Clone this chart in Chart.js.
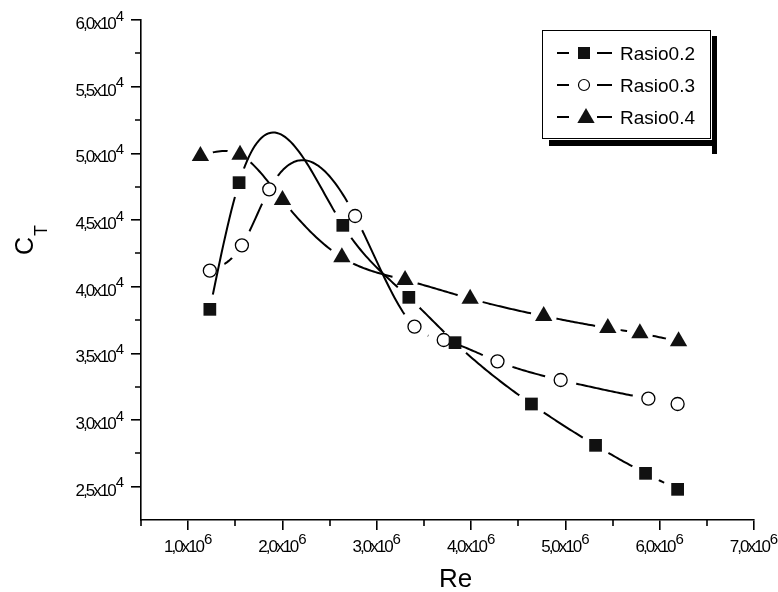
<!DOCTYPE html>
<html><head><meta charset="utf-8">
<script src="https://cdn.jsdelivr.net/npm/chart.js@4/dist/chart.umd.min.js"></script>
<style>html,body{margin:0;padding:0;background:#fff}canvas{display:block}</style>
</head><body>
<canvas id="c" width="778" height="592"></canvas>
<script>
// ---- data ----
const seriesLabels = ['Rasio0.2', 'Rasio0.3', 'Rasio0.4'];
const r02X = [1.23e6, 1.54e6, 2.64e6, 3.34e6, 3.83e6, 4.64e6, 5.32e6, 5.85e6, 6.19e6];
const r02Y = [3.83e4, 4.78e4, 4.46e4, 3.92e4, 3.58e4, 3.12e4, 2.81e4, 2.60e4, 2.48e4];
const r03X = [1.23e6, 1.57e6, 1.86e6, 2.77e6, 3.40e6, 3.71e6, 4.28e6, 4.95e6, 5.88e6, 6.19e6];
const r03Y = [4.12e4, 4.31e4, 4.73e4, 4.53e4, 3.70e4, 3.60e4, 3.44e4, 3.30e4, 3.16e4, 3.12e4];
const r04X = [1.13e6, 1.55e6, 2.00e6, 2.63e6, 3.30e6, 3.99e6, 4.77e6, 5.45e6, 5.79e6, 6.20e6];
const r04Y = [4.98e4, 4.99e4, 4.65e4, 4.22e4, 4.05e4, 3.91e4, 3.78e4, 3.69e4, 3.65e4, 3.59e4];

const xTickValues = [1e6, 2e6, 3e6, 4e6, 5e6, 6e6, 7e6];
const xTickLabels = ['1,0x10', '2,0x10', '3,0x10', '4,0x10', '5,0x10', '6,0x10', '7,0x10'];
const xTickPowers = ['6', '6', '6', '6', '6', '6', '6'];
const xMinorTicks = [0.5e6, 1.5e6, 2.5e6, 3.5e6, 4.5e6, 5.5e6, 6.5e6];
const yTickValues = [2.5e4, 3.0e4, 3.5e4, 4.0e4, 4.5e4, 5.0e4, 5.5e4, 6.0e4];
const yTickLabels = ['2,5x10', '3,0x10', '3,5x10', '4,0x10', '4,5x10', '5,0x10', '5,5x10', '6,0x10'];
const yTickPowers = ['4', '4', '4', '4', '4', '4', '4', '4'];
const yMinorTicks = [2.75e4, 3.25e4, 3.75e4, 4.25e4, 4.75e4, 5.25e4, 5.75e4];
const xTitle = 'Re';
const yTitleMain = 'C';
const yTitleSub = 'T';

const FONT = '"Liberation Sans", Arial, Helvetica, sans-serif';
const toPts = (xs, ys) => xs.map((x, i) => ({x: x, y: ys[i]}));

// natural cubic spline second derivatives
function splineM(xs, ys) {
  const n = xs.length, m = new Array(n).fill(0);
  if (n < 3) return m;
  const a = [], b = [], c = [], d = [];
  for (let i = 1; i < n - 1; i++) {
    const h0 = xs[i] - xs[i - 1], h1 = xs[i + 1] - xs[i];
    a.push(h0); b.push(2 * (h0 + h1)); c.push(h1);
    d.push(6 * ((ys[i + 1] - ys[i]) / h1 - (ys[i] - ys[i - 1]) / h0));
  }
  const k = b.length;
  for (let i = 1; i < k; i++) { const w = a[i] / b[i - 1]; b[i] -= w * c[i - 1]; d[i] -= w * d[i - 1]; }
  const s = new Array(k);
  s[k - 1] = d[k - 1] / b[k - 1];
  for (let i = k - 2; i >= 0; i--) s[i] = (d[i] - c[i] * s[i + 1]) / b[i];
  for (let i = 0; i < k; i++) m[i + 1] = s[i];
  return m;
}

const splinePlugin = {
  id: 'splineLines',
  beforeDatasetsDraw(chart) {
    const ctx = chart.ctx;
    chart.data.datasets.forEach((ds, di) => {
      const gap = ds.lineGap;
      const pts = chart.getDatasetMeta(di).data.map(e => ({x: e.x, y: e.y}));
      const xs = pts.map(p => p.x), ys = pts.map(p => p.y);
      const m = splineM(xs, ys);
      const off = document.createElement('canvas');
      off.width = chart.width; off.height = chart.height;
      const oc = off.getContext('2d');
      oc.beginPath();
      oc.moveTo(xs[0], ys[0]);
      for (let i = 0; i < xs.length - 1; i++) {
        const h = xs[i + 1] - xs[i];
        const steps = Math.max(4, Math.ceil(h / 2));
        for (let s = 1; s <= steps; s++) {
          const x = xs[i] + h * s / steps;
          const A = (xs[i + 1] - x) / h, B = (x - xs[i]) / h;
          const y = A * ys[i] + B * ys[i + 1] + ((A * A * A - A) * m[i] + (B * B * B - B) * m[i + 1]) * h * h / 6;
          oc.lineTo(x, y);
        }
      }
      oc.strokeStyle = '#000';
      oc.lineWidth = 2;
      oc.lineJoin = 'round';
      oc.stroke();
      oc.globalCompositeOperation = 'destination-out';
      oc.fillStyle = '#000';
      pts.forEach(p => { oc.beginPath(); oc.arc(p.x, p.y, gap, 0, Math.PI * 2); oc.fill(); });
      ctx.drawImage(off, 0, 0);
    });
  },
  afterDraw(chart) {
    const ctx = chart.ctx;
    const xs = chart.scales.x, ys = chart.scales.y;
    const ca = chart.chartArea;
    ctx.save();
    // minor ticks
    ctx.strokeStyle = '#000';
    ctx.lineWidth = 1.6;
    ctx.beginPath();
    xMinorTicks.forEach(v => { const px = Math.round(xs.getPixelForValue(v)); ctx.moveTo(px, ca.bottom); ctx.lineTo(px, ca.bottom + 6); });
    yMinorTicks.forEach(v => { const py = Math.round(ys.getPixelForValue(v)); ctx.moveTo(ca.left, py); ctx.lineTo(ca.left - 6, py); });
    ctx.stroke();
    // tick labels with raised exponents
    ctx.fillStyle = '#000';
    ctx.textBaseline = 'alphabetic';
    ctx.textAlign = 'left';
    const baseFont = '17px ' + FONT, expFont = '15px ' + FONT, SP = '-2px';
    function label(txt, pw, x0, yb) {
      ctx.letterSpacing = SP;
      ctx.font = baseFont;
      const wb = ctx.measureText(txt).width;
      ctx.fillText(txt, x0, yb);
      ctx.letterSpacing = '0px';
      ctx.font = expFont;
      ctx.fillText(pw, x0 + wb + 1, yb - 8.5);
    }
    function labelWidth(txt, pw) {
      ctx.letterSpacing = SP; ctx.font = baseFont;
      const wb = ctx.measureText(txt).width;
      ctx.letterSpacing = '0px'; ctx.font = expFont;
      return wb + 1 + ctx.measureText(pw).width;
    }
    xTickValues.forEach((v, i) => {
      const px = xs.getPixelForValue(v);
      const w = labelWidth(xTickLabels[i], xTickPowers[i]);
      label(xTickLabels[i], xTickPowers[i], px - w / 2, ca.bottom + 32);
    });
    yTickValues.forEach((v, i) => {
      const py = ys.getPixelForValue(v);
      const w = labelWidth(yTickLabels[i], yTickPowers[i]);
      label(yTickLabels[i], yTickPowers[i], ca.left - 17 - w, py + 9);
    });
    ctx.letterSpacing = '0px';
    // axis titles
    ctx.textAlign = 'center';
    ctx.font = '26px ' + FONT;
    ctx.fillText(xTitle, (ca.left + ca.right) / 2 + 8, ca.bottom + 67);
    ctx.save();
    ctx.translate(33, 255);
    ctx.rotate(-Math.PI / 2);
    ctx.textAlign = 'left';
    ctx.font = '25px ' + FONT;
    ctx.fillText(yTitleMain, 0, 0);
    ctx.font = '18px ' + FONT;
    ctx.fillText(yTitleSub, 19, 14);
    ctx.restore();
    // legend
    const lg = {x: 542, y: 30, w: 168, h: 108};
    ctx.fillStyle = '#000';
    ctx.fillRect(lg.x + lg.w + 2, lg.y + 6, 5, lg.h + 10);
    ctx.fillRect(lg.x + 7, lg.y + lg.h + 2, lg.w, 6);
    ctx.fillStyle = '#fff';
    ctx.fillRect(lg.x, lg.y, lg.w, lg.h);
    ctx.strokeStyle = '#000';
    ctx.lineWidth = 1;
    ctx.strokeRect(lg.x + 0.5, lg.y + 0.5, lg.w, lg.h);
    chart.data.datasets.forEach((ds, i) => {
      const cy = lg.y + 23 + i * 32;
      ctx.strokeStyle = '#000';
      ctx.lineWidth = 2;
      ctx.beginPath();
      ctx.moveTo(557, cy); ctx.lineTo(569, cy);
      ctx.moveTo(597, cy); ctx.lineTo(612, cy);
      ctx.stroke();
      const mx = 584;
      ctx.beginPath();
      if (ds.pointStyle === 'rect') {
        ctx.fillStyle = '#111';
        ctx.fillRect(mx - 6, cy - 6, 12, 12);
      } else if (ds.pointStyle === 'circle') {
        ctx.arc(mx, cy, 5.5, 0, Math.PI * 2);
        ctx.fillStyle = '#fff'; ctx.fill();
        ctx.lineWidth = 1.2; ctx.stroke();
      } else {
        const r = 10, tx = mx + 2, ty = cy + 1;
        ctx.moveTo(tx, ty - r);
        ctx.lineTo(tx + r * 0.866, ty + r / 2);
        ctx.lineTo(tx - r * 0.866, ty + r / 2);
        ctx.closePath();
        ctx.fillStyle = '#111'; ctx.fill();
      }
      ctx.fillStyle = '#000';
      ctx.textAlign = 'left';
      ctx.font = '19px ' + FONT;
      ctx.fillText(ds.label, 620, cy + 7);
    });
    ctx.restore();
  }
};

const axisCommon = {
  border: {display: true, color: '#000', width: 1.6},
  grid: {display: true, drawOnChartArea: false, drawTicks: true, tickLength: 10, color: '#000', lineWidth: 1.6},
  ticks: {display: false}
};

const chart = new Chart(document.getElementById('c'), {
  type: 'scatter',
  data: {
    datasets: [
      {label: seriesLabels[0], data: toPts(r02X, r02Y), pointStyle: 'rect', pointRadius: 9, pointHoverRadius: 9,
       backgroundColor: '#111', borderColor: '#111', borderWidth: 0, showLine: false, lineGap: 15},
      {label: seriesLabels[1], data: toPts(r03X, r03Y), pointStyle: 'circle', pointRadius: 6.5, pointHoverRadius: 6.5,
       backgroundColor: '#fff', borderColor: '#000', borderWidth: 1.3, showLine: false, lineGap: 16},
      {label: seriesLabels[2], data: toPts(r04X, r04Y), pointStyle: 'triangle', pointRadius: 10, pointHoverRadius: 10,
       backgroundColor: '#111', borderColor: '#111', borderWidth: 0, showLine: false, lineGap: 13}
    ]
  },
  options: {
    responsive: false,
    animation: false,
    devicePixelRatio: 1,
    events: [],
    layout: {padding: {left: 0, right: 24, top: 20, bottom: 0}},
    plugins: {legend: {display: false}, tooltip: {enabled: false}},
    scales: {
      x: Object.assign({}, axisCommon, {
        type: 'linear', min: 0.5e6, max: 7.0e6,
        afterBuildTicks: s => { s.ticks = xTickValues.map(v => ({value: v})); },
        afterFit: s => { s.height = 72; }
      }),
      y: Object.assign({}, axisCommon, {
        type: 'linear', min: 2.25e4, max: 6.0e4,
        afterBuildTicks: s => { s.ticks = yTickValues.map(v => ({value: v})); },
        afterFit: s => { s.width = 141; }
      })
    }
  },
  plugins: [splinePlugin]
});
</script>
</body></html>
